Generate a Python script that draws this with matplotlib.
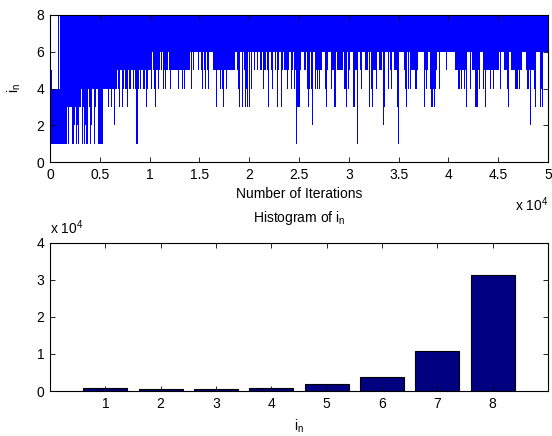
#!/usr/env/bin python

# Trace of i_n over the iterations and its histogram

import numpy as np
import matplotlib
matplotlib.use('Agg')
import matplotlib.pyplot as plt

plt.rcParams['font.family'] = ['Liberation Sans', 'DejaVu Sans']
plt.rcParams['mathtext.default'] = 'regular'
fs = 10

# Trace data: lowest value of i_n in each block of 100 iterations
# (10 blocks per group)
trace_low = (
    "1111111111 1111111313 3311231213 3413121143 1244134411 "
    "1114444434 4344244543 5534544354 4554541145 4554453455 "
    "5465435545 6564545565 4555555554 5554545555 5646566665 "
    "6654654654 6666555355 5454355455 5555556654 3663653436 "
    "3646656656 6556455653 6654665635 6635655545 6645645133 "
    "3566655643 4642664545 4556664356 6645533655 5555644364 "
    "5666335516 6546665556 3643555466 5556236664 6546655531 "
    "6666654364 6455554456 6666635456 6643343456 6466666656 "
    "6666666555 4454554536 6646555333 5466645355 5545545555 "
    "5646665554 3665555444 5455666654 4525554366 6634366666"
)
# highest value in the first blocks (afterwards the trace always reaches 8)
trace_high_start = "3544444484 88"
block_size = 100

# Histogram data
hist_bins = [1, 2, 3, 4, 5, 6, 7, 8]
hist_counts = [800, 550, 550, 900, 1800, 3900, 10800, 31300]

low = np.array([int(c) for c in trace_low.replace(" ", "")])
high = np.full(low.size, 8)
hs = [int(c) for c in trace_high_start.replace(" ", "")]
high[:len(hs)] = hs
starts = np.arange(low.size) * block_size

fig = plt.figure(figsize=(5.52, 4.36), dpi=100)
ax1 = fig.add_axes([0.0906, 0.6284, 0.9022, 0.3372])
ax2 = fig.add_axes([0.0906, 0.1032, 0.9022, 0.3395])

# Top: trace
ax1.bar(starts, high - low, bottom=low, width=block_size, align='edge',
        color='#0000ff', linewidth=0)
ax1.set_xlim(0, 50000)
ax1.set_ylim(0, 8)
ax1.set_yticks([0, 2, 4, 6, 8])
xt = np.arange(0, 50001, 5000)
ax1.set_xticks(xt)
ax1.set_xticklabels(['0', '0.5', '1', '1.5', '2', '2.5', '3', '3.5', '4', '4.5', '5'])
ax1.set_xlabel('Number of Iterations', fontsize=fs, labelpad=4)
ax1.set_ylabel('$i_n$', fontsize=fs, labelpad=10)
ax1.text(1.0, -0.29, r'x 10$^{4}$', transform=ax1.transAxes, ha='right',
         va='center', fontsize=fs)

# Bottom: histogram
ax2.bar(hist_bins, hist_counts, width=0.8, color='#000080',
        edgecolor='black', linewidth=0.8)
ax2.set_xlim(0, 9)
ax2.set_ylim(0, 40000)
ax2.set_xticks(hist_bins)
ax2.set_yticks([0, 10000, 20000, 30000, 40000])
ax2.set_yticklabels(['0', '1', '2', '3', '4'])
ax2.set_xlabel('$i_n$', fontsize=fs, labelpad=5)
ax2.set_title('Histogram of $i_n$', fontsize=fs, pad=15)
ax2.text(0.0, 1.04, r'x 10$^{4}$', transform=ax2.transAxes, ha='left',
         va='bottom', fontsize=fs)

for ax in (ax1, ax2):
    ax.tick_params(direction='in', length=3.5, width=0.6, labelsize=fs,
                   top=True, right=True, pad=4)
    for s in ax.spines.values():
        s.set_linewidth(0.8)

plt.savefig('out.png', dpi=100)
